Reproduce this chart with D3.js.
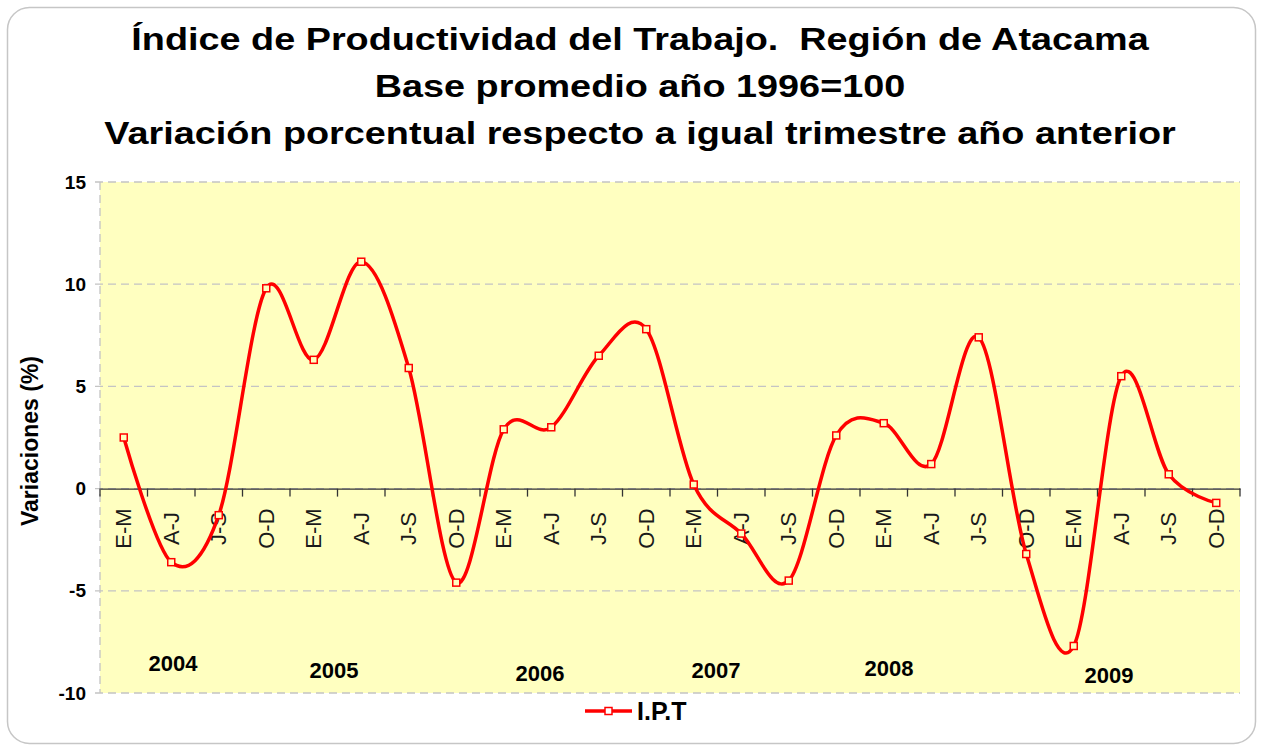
<!DOCTYPE html>
<html>
<head>
<meta charset="utf-8">
<script src="https://cdn.jsdelivr.net/npm/d3@7.9.0/dist/d3.min.js"></script>
<style>
  body { margin: 0; background: #fff; }
  svg { display: block; font-family: Arial, "Liberation Sans", sans-serif; }
</style>
</head>
<body>
<svg id="chart" width="1261" height="747"></svg>
<script>
const years = ['2004', '2005', '2006', '2007', '2008', '2009'];
const quarters = ['E-M', 'A-J', 'J-S', 'O-D'];
const ipt = [2.5, -3.6, -1.3, 9.8, 6.3, 11.1, 5.9, -4.6, 2.9, 3.0, 6.5, 7.8,
             0.2, -2.2, -4.5, 2.6, 3.2, 1.2, 7.4, -3.2, -7.7, 5.5, 0.7, -0.7];
const yTicks = [-10, -5, 0, 5, 10, 15];
const titleLines = [
  'Índice de Productividad del Trabajo.  Región de Atacama',
  'Base promedio año 1996=100',
  'Variación porcentual respecto a igual trimestre año anterior'
];

// one entry per quarter, e.g. "2004 E-M"
const cats = years.flatMap(y => quarters.map(q => `${y} ${q}`));
const data = cats.map((c, i) => ({ cat: c, q: c.split(' ')[1], value: ipt[i] }));

const margin = { left: 100, right: 21, top: 182, bottom: 54 };
const W = 1261, H = 747;
const svg = d3.select('#chart');

// outer frame
svg.append('rect')
  .attr('x', 7.5).attr('y', 7.5)
  .attr('width', 1248).attr('height', 736)
  .attr('rx', 22)
  .attr('fill', '#fff')
  .attr('stroke', '#c6c6c6')
  .attr('stroke-width', 1.5);

const x = d3.scaleBand().domain(cats).range([margin.left, W - margin.right]);
const y = d3.scaleLinear().domain([-10, 15]).range([H - margin.bottom, margin.top]);

// plot background
svg.append('rect')
  .attr('x', x.range()[0]).attr('y', y(15))
  .attr('width', x.range()[1] - x.range()[0])
  .attr('height', y(-10) - y(15))
  .attr('fill', '#ffffc0');

// gridlines
svg.append('g')
  .selectAll('line')
  .data(yTicks)
  .join('line')
  .attr('x1', x.range()[0] - 5).attr('x2', x.range()[1])
  .attr('y1', d => y(d)).attr('y2', d => y(d))
  .attr('stroke', '#c4c4c4')
  .attr('stroke-width', 1.3)
  .attr('stroke-dasharray', '8,5');

// y axis line (dashed)
svg.append('line')
  .attr('x1', x.range()[0]).attr('x2', x.range()[0])
  .attr('y1', y(15)).attr('y2', y(-10))
  .attr('stroke', '#c4c4c4')
  .attr('stroke-width', 1.3)
  .attr('stroke-dasharray', '8,5');

// y tick labels
svg.append('g')
  .selectAll('text')
  .data(yTicks)
  .join('text')
  .attr('x', 86)
  .attr('y', d => y(d))
  .attr('dy', '0.35em')
  .attr('text-anchor', 'end')
  .attr('font-size', 19)
  .attr('font-weight', 'bold')
  .text(d => d);

// zero axis with category ticks
const xAxis = d3.axisBottom(x).tickSize(0).tickFormat('');
const gx = svg.append('g')
  .attr('transform', `translate(0,${y(0)})`)
  .call(xAxis);
gx.select('.domain').attr('stroke', '#333').attr('stroke-width', 1.3);

const bounds = cats.map(c => x(c)).concat([x.range()[1]]);
gx.selectAll('.bound')
  .data(bounds)
  .join('line')
  .attr('class', 'bound')
  .attr('x1', d => d).attr('x2', d => d)
  .attr('y1', 0).attr('y2', 8)
  .attr('stroke', '#333')
  .attr('stroke-width', 1.3);

// rotated quarter labels
svg.append('g')
  .selectAll('text')
  .data(data)
  .join('text')
  .attr('transform', d => `translate(${x(d.cat) + x.bandwidth() / 2},${y(0) + 40}) rotate(-90)`)
  .attr('text-anchor', 'middle')
  .attr('dy', '0.35em')
  .attr('font-size', 22)
  .attr('fill', '#1a1a1a')
  .text(d => d.q);

// year labels, placed where the original text boxes sit
const yearPos = [[173, 671], [334, 678], [540, 681], [716, 678], [889, 676], [1109, 683]];
svg.append('g')
  .selectAll('text')
  .data(years)
  .join('text')
  .attr('x', (d, i) => yearPos[i][0])
  .attr('y', (d, i) => yearPos[i][1])
  .attr('text-anchor', 'middle')
  .attr('font-size', 22)
  .attr('font-weight', 'bold')
  .text(d => d);

// series
const line = d3.line()
  .x(d => x(d.cat) + x.bandwidth() / 2)
  .y(d => y(d.value))
  .curve(d3.curveCardinal.tension(0));

svg.append('path')
  .datum(data)
  .attr('d', line)
  .attr('fill', 'none')
  .attr('stroke', '#ff0000')
  .attr('stroke-width', 3.5)
  .attr('stroke-linejoin', 'round');

svg.append('g')
  .selectAll('rect')
  .data(data)
  .join('rect')
  .attr('x', d => x(d.cat) + x.bandwidth() / 2 - 3.5)
  .attr('y', d => y(d.value) - 3.5)
  .attr('width', 7).attr('height', 7)
  .attr('fill', '#ffffc0')
  .attr('stroke', '#ff0000')
  .attr('stroke-width', 1.5);

// title (the original is drawn a little wider than tall)
svg.append('g')
  .attr('transform', 'translate(640,0) scale(1.22,1)')
  .selectAll('text')
  .data(titleLines)
  .join('text')
  .attr('x', 0)
  .attr('y', (d, i) => 50 + i * 47)
  .attr('text-anchor', 'middle')
  .attr('font-size', 31)
  .attr('font-weight', 'bold')
  .style('white-space', 'pre')
  .text(d => d);

// y axis title
svg.append('text')
  .attr('transform', 'translate(30,441) rotate(-90)')
  .attr('text-anchor', 'middle')
  .attr('dy', '0.35em')
  .attr('font-size', 23)
  .attr('font-weight', 'bold')
  .text('Variaciones (%)');

// legend
const lg = svg.append('g').attr('transform', 'translate(585,711)');
lg.append('line')
  .attr('x1', 0).attr('x2', 47)
  .attr('stroke', '#ff0000').attr('stroke-width', 3.5);
lg.append('rect')
  .attr('x', 20).attr('y', -3.5).attr('width', 7).attr('height', 7)
  .attr('fill', '#fff').attr('stroke', '#ff0000').attr('stroke-width', 1.5);
lg.append('text')
  .attr('x', 52).attr('y', 9)
  .attr('font-size', 25)
  .attr('font-weight', 'bold')
  .text('I.P.T');
</script>
</body>
</html>
